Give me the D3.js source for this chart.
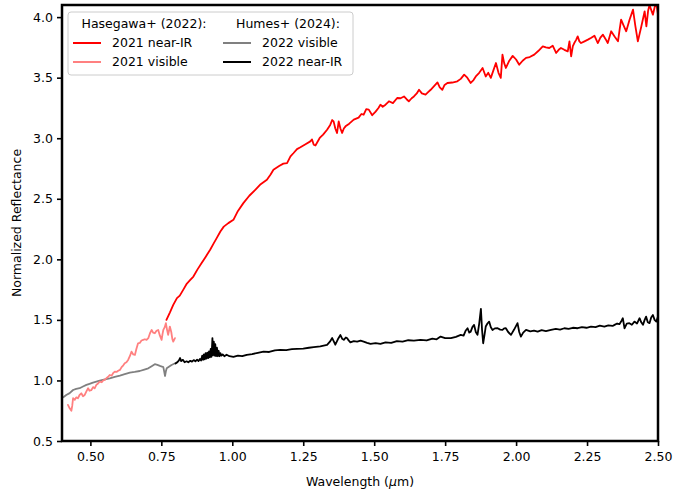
<!DOCTYPE html>
<meta charset="utf-8">
<title>Normalized reflectance spectra</title>
<head>
<style>
body { margin: 0; background: #fff; }
svg text { font-family: "DejaVu Sans", sans-serif; font-size: 12.5px; fill: #000; }
.spec { fill: none; stroke-linejoin: round; stroke-linecap: round; }
.axis path { display: none; }
.axis line { stroke: #000; stroke-width: 1.6px; }
</style>
</head>
<body>
<svg width="673" height="489"></svg>
<script src="https://d3js.org/d3.v7.min.js"></script>
<script>
// Hasegawa+ (2022), 2021 near-IR  [wavelength um, reflectance]
var hasegawaNir = [[0.768,1.500],[0.780,1.560],[0.792,1.624],[0.805,1.680],[0.815,1.700],[0.827,1.748],[0.840,1.800],[0.852,1.830],[0.863,1.858],[0.877,1.915],[0.892,1.969],[0.906,2.020],[0.922,2.079],[0.934,2.130],[0.945,2.175],[0.958,2.230],[0.970,2.270],[0.986,2.299],[1.004,2.326],[1.020,2.400],[1.039,2.464],[1.060,2.525],[1.081,2.574],[1.100,2.620],[1.122,2.657],[1.135,2.700],[1.145,2.740],[1.165,2.770],[1.180,2.790],[1.193,2.795],[1.205,2.850],[1.216,2.878],[1.228,2.910],[1.240,2.925],[1.258,2.950],[1.275,2.974],[1.281,2.990],[1.287,2.946],[1.293,2.940],[1.308,3.002],[1.320,3.030],[1.334,3.070],[1.345,3.110],[1.352,3.150],[1.357,3.139],[1.363,3.080],[1.369,3.043],[1.375,3.139],[1.381,3.080],[1.387,3.043],[1.393,3.080],[1.399,3.098],[1.412,3.120],[1.428,3.153],[1.445,3.170],[1.455,3.200],[1.463,3.194],[1.472,3.240],[1.481,3.236],[1.493,3.190],[1.505,3.220],[1.515,3.250],[1.522,3.277],[1.530,3.260],[1.540,3.277],[1.552,3.305],[1.566,3.290],[1.581,3.332],[1.593,3.330],[1.605,3.345],[1.615,3.320],[1.622,3.305],[1.632,3.330],[1.640,3.345],[1.650,3.370],[1.658,3.400],[1.668,3.370],[1.681,3.360],[1.690,3.380],[1.699,3.400],[1.711,3.430],[1.723,3.461],[1.731,3.420],[1.740,3.400],[1.748,3.440],[1.758,3.456],[1.775,3.460],[1.793,3.470],[1.805,3.490],[1.817,3.525],[1.828,3.500],[1.840,3.456],[1.850,3.480],[1.858,3.510],[1.870,3.540],[1.882,3.580],[1.893,3.510],[1.902,3.540],[1.911,3.498],[1.920,3.560],[1.929,3.621],[1.938,3.540],[1.946,3.498],[1.952,3.690],[1.958,3.620],[1.964,3.580],[1.976,3.640],[1.988,3.680],[2.000,3.650],[2.011,3.607],[2.023,3.640],[2.035,3.663],[2.048,3.670],[2.064,3.690],[2.078,3.720],[2.094,3.759],[2.105,3.750],[2.117,3.745],[2.129,3.764],[2.141,3.704],[2.150,3.730],[2.158,3.745],[2.170,3.730],[2.182,3.717],[2.188,3.800],[2.194,3.676],[2.200,3.760],[2.205,3.786],[2.211,3.810],[2.217,3.841],[2.223,3.800],[2.229,3.786],[2.241,3.800],[2.253,3.814],[2.265,3.830],[2.276,3.847],[2.288,3.786],[2.297,3.830],[2.306,3.855],[2.315,3.820],[2.323,3.786],[2.335,3.883],[2.347,3.840],[2.359,3.800],[2.365,3.900],[2.370,3.979],[2.379,3.930],[2.388,3.883],[2.400,3.980],[2.412,4.062],[2.420,3.930],[2.429,3.800],[2.441,3.920],[2.453,4.048],[2.459,3.924],[2.465,4.050],[2.470,4.100],[2.476,4.060],[2.482,4.020],[2.488,4.080],[2.494,4.120],[2.500,4.020]];

// Hasegawa+ (2022), 2021 visible
var hasegawaVis = [[0.421,0.798],[0.427,0.770],[0.433,0.750],[0.436,0.790],[0.439,0.853],[0.445,0.840],[0.450,0.860],[0.456,0.853],[0.462,0.880],[0.468,0.894],[0.474,0.870],[0.480,0.880],[0.486,0.910],[0.492,0.936],[0.497,0.915],[0.503,0.920],[0.510,0.945],[0.515,0.935],[0.521,0.963],[0.527,0.975],[0.533,0.990],[0.540,0.985],[0.545,1.000],[0.551,1.004],[0.557,1.020],[0.563,1.030],[0.568,1.045],[0.575,1.040],[0.580,1.060],[0.586,1.073],[0.592,1.070],[0.598,1.080],[0.604,1.087],[0.610,1.110],[0.616,1.125],[0.621,1.142],[0.627,1.150],[0.633,1.169],[0.639,1.200],[0.645,1.238],[0.651,1.215],[0.657,1.211],[0.662,1.260],[0.668,1.307],[0.674,1.310],[0.680,1.330],[0.686,1.335],[0.692,1.340],[0.698,1.335],[0.704,1.349],[0.710,1.390],[0.716,1.417],[0.721,1.395],[0.727,1.390],[0.733,1.410],[0.739,1.417],[0.745,1.370],[0.751,1.335],[0.754,1.380],[0.757,1.417],[0.762,1.440],[0.766,1.473],[0.770,1.420],[0.774,1.376],[0.777,1.410],[0.780,1.445],[0.785,1.400],[0.789,1.340],[0.792,1.321],[0.795,1.335],[0.798,1.349]];

// Humes+ (2024), 2022 visible
var humesVis = [[0.398,0.853],[0.407,0.865],[0.415,0.880],[0.427,0.895],[0.439,0.921],[0.450,0.930],[0.462,0.936],[0.474,0.950],[0.486,0.963],[0.497,0.972],[0.509,0.982],[0.521,0.990],[0.533,0.998],[0.551,1.008],[0.568,1.018],[0.586,1.030],[0.604,1.040],[0.621,1.052],[0.639,1.065],[0.656,1.070],[0.674,1.078],[0.690,1.090],[0.704,1.100],[0.716,1.118],[0.727,1.134],[0.736,1.128],[0.745,1.120],[0.752,1.115],[0.757,1.110],[0.760,1.075],[0.763,1.037],[0.766,1.075],[0.769,1.100],[0.778,1.115],[0.786,1.128],[0.795,1.138],[0.804,1.147]];

// Humes+ (2024), 2022 near-IR
var humesNir = [[0.800,1.140],[0.806,1.150],[0.812,1.165],[0.816,1.185],[0.820,1.160],[0.826,1.170],[0.832,1.150],[0.839,1.158],[0.845,1.150],[0.852,1.162],[0.858,1.155],[0.864,1.168],[0.870,1.158],[0.876,1.172],[0.881,1.160],[0.886,1.178],[0.890,1.165],[0.894,1.205],[0.897,1.170],[0.900,1.215],[0.903,1.175],[0.906,1.225],[0.909,1.180],[0.912,1.230],[0.915,1.185],[0.918,1.240],[0.921,1.190],[0.924,1.260],[0.927,1.195],[0.930,1.350],[0.932,1.210],[0.935,1.320],[0.937,1.205],[0.940,1.300],[0.943,1.200],[0.946,1.270],[0.949,1.200],[0.952,1.245],[0.955,1.200],[0.958,1.225],[0.962,1.205],[0.966,1.215],[0.972,1.200],[0.980,1.212],[0.990,1.200],[1.004,1.195],[1.020,1.205],[1.035,1.200],[1.051,1.212],[1.070,1.218],[1.090,1.228],[1.110,1.238],[1.130,1.235],[1.150,1.248],[1.169,1.252],[1.190,1.250],[1.210,1.258],[1.228,1.260],[1.250,1.262],[1.270,1.270],[1.287,1.275],[1.310,1.282],[1.334,1.293],[1.344,1.320],[1.352,1.350],[1.358,1.320],[1.363,1.295],[1.372,1.340],[1.381,1.375],[1.387,1.345],[1.393,1.335],[1.400,1.355],[1.405,1.348],[1.410,1.330],[1.416,1.315],[1.428,1.325],[1.440,1.320],[1.452,1.328],[1.463,1.320],[1.475,1.310],[1.487,1.302],[1.505,1.308],[1.522,1.302],[1.540,1.315],[1.560,1.310],[1.580,1.325],[1.600,1.320],[1.620,1.332],[1.640,1.328],[1.663,1.335],[1.685,1.330],[1.705,1.345],[1.720,1.340],[1.734,1.362],[1.750,1.350],[1.770,1.349],[1.788,1.360],[1.805,1.376],[1.815,1.370],[1.822,1.410],[1.829,1.431],[1.835,1.395],[1.840,1.403],[1.846,1.440],[1.852,1.459],[1.858,1.400],[1.864,1.376],[1.870,1.470],[1.876,1.591],[1.880,1.420],[1.884,1.307],[1.889,1.380],[1.893,1.445],[1.899,1.470],[1.905,1.486],[1.911,1.440],[1.917,1.417],[1.925,1.430],[1.935,1.431],[1.944,1.420],[1.952,1.417],[1.958,1.430],[1.964,1.431],[1.972,1.400],[1.982,1.376],[1.993,1.420],[2.005,1.473],[2.011,1.400],[2.017,1.362],[2.025,1.395],[2.035,1.417],[2.050,1.405],[2.063,1.412],[2.076,1.403],[2.090,1.415],[2.105,1.408],[2.123,1.417],[2.140,1.425],[2.155,1.420],[2.170,1.431],[2.185,1.425],[2.200,1.435],[2.217,1.431],[2.232,1.440],[2.248,1.435],[2.264,1.445],[2.280,1.440],[2.295,1.452],[2.311,1.445],[2.325,1.455],[2.340,1.450],[2.347,1.459],[2.356,1.470],[2.364,1.465],[2.370,1.486],[2.376,1.514],[2.382,1.431],[2.390,1.470],[2.399,1.473],[2.408,1.460],[2.417,1.486],[2.426,1.470],[2.435,1.514],[2.441,1.480],[2.447,1.459],[2.453,1.500],[2.458,1.527],[2.464,1.480],[2.470,1.473],[2.476,1.520],[2.482,1.541],[2.488,1.500],[2.494,1.486],[2.500,1.527]];

var xTicks = [0.50, 0.75, 1.00, 1.25, 1.50, 1.75, 2.00, 2.25, 2.50];
var yTicks = [0.5, 1.0, 1.5, 2.0, 2.5, 3.0, 3.5, 4.0];

var svg = d3.select("svg"),
    margin = {top: 5, right: 15, bottom: 48, left: 62},
    width = +svg.attr("width") - margin.left - margin.right,
    height = +svg.attr("height") - margin.top - margin.bottom,
    g = svg.append("g").attr("transform", "translate(" + margin.left + "," + margin.top + ")");

var x = d3.scaleLinear().domain([0.4, 2.5]).range([0, width]),
    y = d3.scaleLinear().domain([0.5, 4.1]).range([height, 0]);

var line = d3.line()
    .x(function(d) { return x(d[0]); })
    .y(function(d) { return y(d[1]); });

g.append("clipPath")
    .attr("id", "clip")
  .append("rect")
    .attr("width", width)
    .attr("height", height);

// draw order: grey, pink, red, black
var series = [
  {data: humesVis, color: "#808080", w: 1.8},
  {data: hasegawaVis, color: "#ff8080", w: 1.8},
  {data: hasegawaNir, color: "#ff0000", w: 1.8},
  {data: humesNir, color: "#000000", w: 1.8}
];

g.append("g").attr("clip-path", "url(#clip)")
  .selectAll(".spec")
  .data(series)
  .enter().append("path")
    .attr("class", "spec")
    .attr("d", function(d) { return line(d.data); })
    .style("stroke", function(d) { return d.color; })
    .style("stroke-width", function(d) { return d.w; });

var xAxis = d3.axisBottom(x).tickValues(xTicks).tickFormat(d3.format(".2f")).tickSize(5).tickPadding(6);
var yAxis = d3.axisLeft(y).tickValues(yTicks).tickFormat(d3.format(".1f")).tickSize(5).tickPadding(4);

g.append("g")
    .attr("class", "axis")
    .attr("transform", "translate(0," + height + ")")
    .call(xAxis)
    .selectAll("text").style("font-size", "12.5px").style("font-family", "DejaVu Sans");

g.append("g")
    .attr("class", "axis")
    .call(yAxis)
    .selectAll("text").style("font-size", "12.5px").style("font-family", "DejaVu Sans");

// frame
g.append("rect")
    .attr("width", width)
    .attr("height", height)
    .attr("fill", "none")
    .attr("stroke", "#000")
    .attr("stroke-width", 2.5);

var xl = svg.append("text")
    .attr("x", margin.left + width / 2)
    .attr("y", 486)
    .attr("text-anchor", "middle");
xl.append("tspan").text("Wavelength (");
xl.append("tspan").style("font-style", "italic").text("\u03bc");
xl.append("tspan").text("m)");

svg.append("text")
    .attr("transform", "translate(21," + (margin.top + height / 2) + ") rotate(-90)")
    .attr("text-anchor", "middle")
    .text("Normalized Reflectance");

// legend
var leg = svg.append("g").attr("transform", "translate(68,12)");
leg.append("rect")
    .attr("width", 285)
    .attr("height", 63)
    .attr("rx", 3)
    .attr("fill", "#fff")
    .attr("fill-opacity", 0.8)
    .attr("stroke", "#cccccc")
    .attr("stroke-width", 1);

var legCols = [
  {title: "Hasegawa+ (2022):", cx: 76, lx: 5, items: [{label: "2021 near-IR", color: "#ff0000"}, {label: "2021 visible", color: "#ff8080"}]},
  {title: "Humes+ (2024):", cx: 220, lx: 155, items: [{label: "2022 visible", color: "#808080"}, {label: "2022 near-IR", color: "#000000"}]}
];

legCols.forEach(function(col) {
  leg.append("text")
      .attr("x", col.cx)
      .attr("y", 16)
      .attr("text-anchor", "middle")
      .text(col.title);
  col.items.forEach(function(it, i) {
    var yy = 31 + i * 19;
    leg.append("line")
        .attr("x1", col.lx).attr("x2", col.lx + 28)
        .attr("y1", yy).attr("y2", yy)
        .attr("stroke", it.color)
        .attr("stroke-width", 2);
    leg.append("text")
        .attr("x", col.lx + 39)
        .attr("y", yy)
        .attr("dy", "0.35em")
        .text(it.label);
  });
});
</script>
</body>
